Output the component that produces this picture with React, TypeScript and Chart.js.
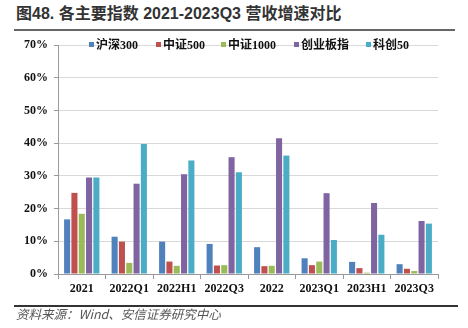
import React, { useEffect, useRef } from "react";
import { Chart, registerables } from "chart.js";

Chart.register(...registerables);

const categories = ["2021", "2022Q1", "2022H1", "2022Q3", "2022", "2023Q1", "2023H1", "2023Q3"];
const seriesNames = ["沪深300", "中证500", "中证1000", "创业板指", "科创50"];
const seriesColors = ["#4f81bd", "#c0504d", "#9bbb59", "#8064a2", "#4bacc6"];
const hs300 = [16.7, 11.4, 9.9, 9.2, 8.2, 4.8, 3.7, 3.0];
const zz500 = [24.8, 9.9, 3.8, 2.6, 2.4, 2.7, 1.8, 1.6];
const zz1000 = [18.4, 3.4, 2.5, 2.7, 2.5, 3.8, 0.4, 0.9];
const cyb = [29.5, 27.6, 30.5, 35.7, 41.5, 24.7, 21.7, 16.2];
const kc50 = [29.5, 39.7, 34.7, 31.1, 36.2, 10.4, 12.0, 15.4];
const yTicks = [0, 10, 20, 30, 40, 50, 60, 70];

const titleText = "图48. 各主要指数 2021-2023Q3 营收增速对比";
const sourceText = "资料来源：Wind、安信证券研究中心";

export default function App() {
  const ref = useRef<HTMLCanvasElement | null>(null);
  useEffect(() => {
    document.body.style.margin = "0";
    const values = [hs300, zz500, zz1000, cyb, kc50];
    const chart = new Chart(ref.current as HTMLCanvasElement, {
      type: "bar",
      data: {
        labels: categories,
        datasets: seriesNames.map((n, i) => ({
          label: n,
          data: values[i],
          backgroundColor: seriesColors[i],
          categoryPercentage: 0.77,
          barPercentage: 0.83,
        })),
      },
      options: {
        animation: false,
        responsive: false,
        maintainAspectRatio: false,
        layout: { padding: { left: 0, right: 30, top: 45, bottom: 0 } },
        plugins: { legend: { display: false }, tooltip: { enabled: false }, title: { display: false } },
        scales: {
          x: {
            grid: { drawOnChartArea: false, drawTicks: true, tickLength: 5, color: "#999", offset: true },
            border: { display: true, color: "#999", width: 1 },
            ticks: {
              color: "#111",
              padding: 3,
              font: { family: "'Liberation Serif', 'Times New Roman', serif", size: 12, weight: "bold" },
              maxRotation: 0,
              autoSkip: false,
            },
            afterFit: (s: any) => { s.height = 54; },
          },
          y: {
            min: 0,
            max: 70,
            afterBuildTicks: (s: any) => { s.ticks = yTicks.map((v) => ({ value: v })); },
            grid: {
              color: (c: any) => (c.tick && c.tick.value === 0 ? "rgba(0,0,0,0)" : "#d9d9d9"),
              borderDash: [4, 3],
              tickColor: "#999",
              tickBorderDash: [],
              tickLength: 4,
              drawTicks: true,
            },
            border: { display: true, color: "#999", width: 1 },
            ticks: {
              color: "#111",
              padding: 6,
              callback: (v: any) => v + "%",
              font: { family: "'Liberation Serif', 'Times New Roman', serif", size: 12, weight: "bold" },
            },
            afterFit: (s: any) => { s.width = 58; },
          },
        },
      },
    });
    return () => chart.destroy();
  }, []);

  const legendX = [89, 156, 221, 294, 366];
  return (
    <div style={{ position: "fixed", left: 0, top: 0, width: 468, height: 328, background: "#fff", overflow: "hidden" }}>
      <div
        style={{
          position: "absolute",
          left: 16,
          top: 4,
          fontFamily: "Arial, 'Liberation Sans', 'Noto Sans CJK SC', sans-serif",
          fontSize: 16,
          fontWeight: "bold",
          color: "#333",
          whiteSpace: "nowrap",
          lineHeight: "20px",
        }}
      >
        {titleText}
      </div>
      <div style={{ position: "absolute", left: 14, top: 29, width: 441, height: 2, background: "#666" }} />
      <canvas ref={ref} width={468} height={328} style={{ position: "absolute", left: 0, top: 0 }} />
      {seriesNames.map((n, i) => (
        <div
          key={n}
          style={{
            position: "absolute",
            left: legendX[i],
            top: 36,
            height: 16,
            display: "flex",
            alignItems: "center",
            whiteSpace: "nowrap",
            fontFamily: "'Liberation Serif', 'Noto Sans CJK SC', serif",
            fontSize: 12,
            fontWeight: "bold",
            color: "#111",
          }}
        >
          <span style={{ display: "inline-block", width: 5, height: 5, background: seriesColors[i], marginRight: 2 }} />
          <span>{n}</span>
        </div>
      ))}
      <div style={{ position: "absolute", left: 14, top: 305, width: 444, height: 1.5, background: "#333" }} />
      <div
        style={{
          position: "absolute",
          left: 16,
          top: 306,
          fontFamily: "'Noto Sans CJK SC', sans-serif",
          fontStyle: "italic",
          fontSize: 12.5,
          color: "#555",
          whiteSpace: "nowrap",
          lineHeight: "16px",
        }}
      >
        {sourceText}
      </div>
    </div>
  );
}
